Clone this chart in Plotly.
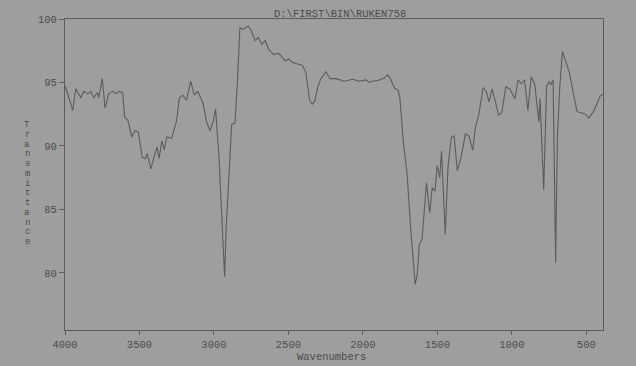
import plotly.graph_objects as go

title_text = "D:\\FIRST\\BIN\\RUKEN758"
x_title = "Wavenumbers"
y_title = "Transmittance"

x_ticks = [4000, 3500, 3000, 2500, 2000, 1500, 1000, 500]
y_ticks = [80, 85, 90, 95, 100]

wavenumber = [
    3998, 3984, 3948, 3928, 3894, 3874, 3848, 3827, 3807, 3782, 3773, 3750, 3731, 3707, 3680,
    3658, 3639, 3613, 3600, 3577, 3552, 3531, 3508, 3482, 3460, 3448, 3424, 3403, 3382, 3369,
    3350, 3333, 3317, 3283, 3251, 3232, 3209, 3184, 3156, 3132, 3110, 3074, 3050, 3026, 3004,
    2989, 2967, 2948, 2928, 2919, 2898, 2881, 2859, 2842, 2826, 2804, 2770, 2748, 2725, 2702,
    2679, 2655, 2633, 2599, 2566, 2542, 2520, 2498, 2474, 2440, 2407, 2383, 2358, 2339, 2324,
    2303, 2282, 2249, 2221, 2181, 2125, 2068, 2023, 1979, 1957, 1934, 1890, 1856, 1834, 1818,
    1787, 1764, 1752, 1729, 1703, 1678, 1649, 1635, 1621, 1603, 1591, 1573, 1551, 1535, 1516,
    1501, 1484, 1472, 1447, 1429, 1406, 1388, 1366, 1341, 1311, 1288, 1263, 1244, 1223, 1193,
    1170, 1153, 1132, 1114, 1089, 1067, 1041, 1014, 979, 958, 937, 915, 892, 870, 847,
    818, 811, 786, 778, 767, 750, 739, 723, 706, 694, 678, 660, 636, 613, 587,
    562, 528, 506, 483, 450, 408, 389,
]

transmittance = [
    94.7, 94.2, 92.8, 94.5, 93.8, 94.3, 94.1, 94.3, 93.8, 94.2, 93.8, 95.3, 93.0, 94.1, 94.3,
    94.1, 94.3, 94.2, 92.3, 92.0, 90.7, 91.2, 91.1, 89.1, 89.0, 89.4, 88.2, 89.1, 89.9, 89.0,
    90.4, 89.7, 90.7, 90.6, 92.0, 93.8, 94.0, 93.6, 95.1, 94.0, 94.3, 93.4, 91.9, 91.2, 92.0,
    92.9, 89.3, 84.6, 79.7, 83.3, 88.5, 91.7, 91.8, 95.1, 99.3, 99.2, 99.45, 99.05, 98.3, 98.55,
    98.0, 98.3, 97.6, 97.2, 97.3, 97.0, 96.7, 96.85, 96.6, 96.45, 96.35, 95.8, 93.6, 93.3, 93.5,
    94.65, 95.3, 95.85, 95.3, 95.3, 95.1, 95.25, 95.1, 95.2, 95.0, 95.1, 95.2, 95.35, 95.6, 95.35,
    94.55, 94.4, 93.8, 90.4, 87.75, 83.3, 79.1, 79.9, 82.25, 82.65, 84.6, 87.1, 84.75, 86.7, 86.45,
    88.45, 87.5, 89.6, 83.05, 88.3, 90.7, 90.8, 88.05, 89.1, 90.95, 90.8, 89.65, 91.5, 92.4, 94.6,
    94.25, 93.45, 94.5, 93.7, 92.4, 92.65, 94.65, 94.5, 93.7, 95.2, 94.9, 95.2, 92.8, 95.45, 94.9,
    91.9, 93.75, 86.55, 90.75, 94.67, 95.07, 94.8, 95.2, 80.8, 90.75, 94.7, 97.45, 96.5, 95.75, 94.15,
    92.7, 92.6, 92.5, 92.2, 92.75, 93.9, 94.1,
]

BG = "#9e9e9e"
INK = "#5c5c5c"
TXT = "#4c4c4c"
FONT = "Liberation Mono, Courier New, monospace"

W, H = 636, 366
ML, MR, MT, MB = 65, 33, 19, 36
PW, PH = W - ML - MR, H - MT - MB

fig = go.Figure()
fig.add_trace(go.Scatter(
    x=wavenumber, y=transmittance, mode="lines",
    line=dict(color=INK, width=1.1), hoverinfo="skip", showlegend=False,
))

fig.update_layout(
    width=W, height=H,
    margin=dict(l=ML, r=MR, t=MT, b=MB),
    paper_bgcolor=BG, plot_bgcolor=BG,
    font=dict(family=FONT, color=TXT, size=10.5),
    xaxis=dict(
        range=[4000, 388], tickvals=x_ticks, ticktext=[str(v) for v in x_ticks],
        showgrid=False, zeroline=False, showline=True, linecolor=INK, linewidth=1,
        mirror=True, ticks="outside", ticklen=4, tickcolor=INK,
        tickfont=dict(family=FONT, size=10.5, color=TXT),
    ),
    yaxis=dict(
        range=[75.5, 100], tickvals=y_ticks, ticktext=[str(v) for v in y_ticks],
        showgrid=False, zeroline=False, showline=True, linecolor=INK, linewidth=1,
        mirror=True, ticks="outside", ticklen=5, tickcolor=INK,
        tickfont=dict(family=FONT, size=10.5, color=TXT),
    ),
)

def px_to_paper_x(px):
    return (px - ML) / PW

def py_to_paper_y(py):
    return 1 - (py - MT) / PH

annotations = [
    dict(text=title_text, x=px_to_paper_x(340), y=py_to_paper_y(14), xref="paper", yref="paper",
         xanchor="center", yanchor="middle", showarrow=False,
         font=dict(family=FONT, size=10.5, color=TXT)),
    dict(text=x_title, x=px_to_paper_x(331), y=py_to_paper_y(357), xref="paper", yref="paper",
         xanchor="center", yanchor="middle", showarrow=False,
         font=dict(family=FONT, size=10.5, color=TXT)),
]
for i, ch in enumerate(y_title):
    annotations.append(dict(
        text=ch, x=px_to_paper_x(27), y=py_to_paper_y(125 + i * 9.75), xref="paper", yref="paper",
        xanchor="center", yanchor="middle", showarrow=False,
        font=dict(family=FONT, size=9, color=TXT)))
fig.update_layout(annotations=annotations)

fig.write_html("out.html")
